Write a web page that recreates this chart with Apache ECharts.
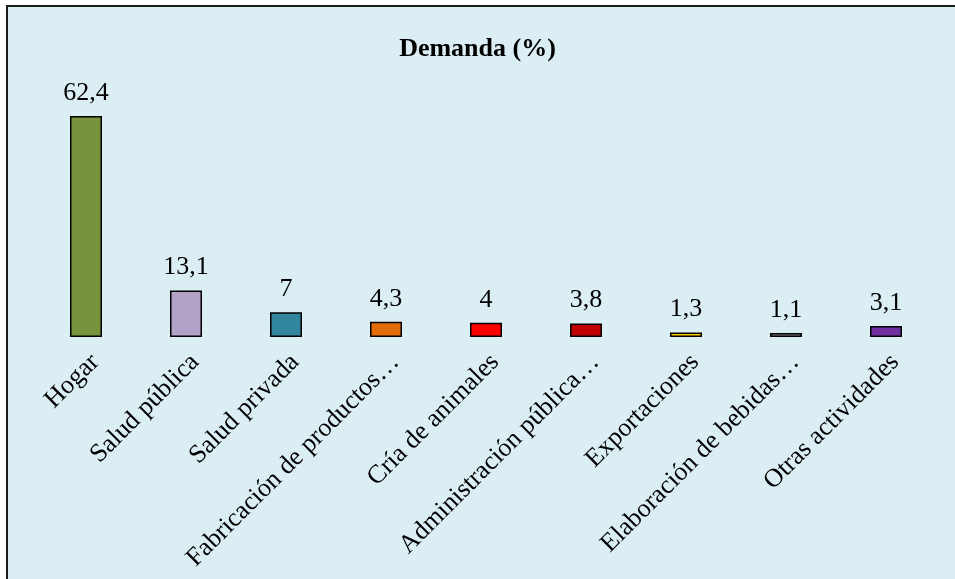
<!DOCTYPE html>
<html>
<head>
<meta charset="utf-8">
<script src="https://cdn.jsdelivr.net/npm/echarts@6/dist/echarts.min.js"></script>
<style>
    html, body { margin: 0; padding: 0; background: #fff; }
    #chart { width: 955px; height: 579px; }
</style>
</head>
<body>
<div id="chart"></div>
<script>
// categorias y valores (%)
const categories = [
    'Hogar',
    'Salud pública',
    'Salud privada',
    'Fabricación de productos…',
    'Cría de animales',
    'Administración pública…',
    'Exportaciones',
    'Elaboración de bebidas…',
    'Otras actividades'
];
const values = [62.4, 13.1, 7, 4.3, 4, 3.8, 1.3, 1.1, 3.1];
const barColors = ['#77933C', '#B3A2C7', '#31859C', '#E46C0A', '#FF0000', '#C00000', '#FFC000', '#808080', '#7030A0'];

const myChart = echarts.init(document.getElementById('chart'));

const options = {
    backgroundColor: '#fff',
    textStyle: { fontFamily: 'Liberation Serif' },
    // fondo del area del grafico con borde
    graphic: [{
        type: 'rect',
        z: -10,
        shape: { x: 7, y: 6, width: 1000, height: 650 },
        style: { fill: '#DBEEF4', stroke: '#1a1a1a', lineWidth: 2 }
    }],
    title: {
        text: 'Demanda (%)',
        left: 'center',
        top: 31,
        textStyle: {
            fontFamily: 'Liberation Serif',
            fontWeight: 'bold',
            fontSize: 26,
            color: '#000'
        }
    },
    grid: {
        left: 36,
        right: 19,
        top: 89,
        bottom: 242
    },
    xAxis: {
        type: 'category',
        data: categories,
        axisLine: { show: false },
        axisTick: { show: false },
        axisLabel: {
            rotate: 45,
            interval: 0,
            margin: 12,
            verticalAlign: 'top',
            fontSize: 26,
            color: '#000',
            fontFamily: 'Liberation Serif'
        }
    },
    yAxis: {
        type: 'value',
        min: 0,
        max: 70,
        show: false
    },
    series: [{
        type: 'bar',
        barWidth: 32,
        data: values.map((v, i) => ({
            value: v,
            itemStyle: { color: barColors[i] }
        })),
        itemStyle: {
            borderColor: '#000',
            borderWidth: 1.5
        },
        label: {
            show: true,
            position: 'top',
            distance: 10,
            fontSize: 26,
            color: '#000',
            fontFamily: 'Liberation Serif',
            formatter: (p) => String(p.value).replace('.', ',')
        }
    }]
};

myChart.setOption(options);
</script>
</body>
</html>
